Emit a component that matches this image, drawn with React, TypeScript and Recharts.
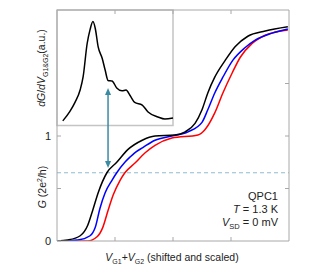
import { LineChart, Line, XAxis, YAxis, ReferenceLine, ReferenceArea } from "recharts";

// conductance traces, x in shifted/scaled gate units, G in 2e^2/h
const blackX = [0, 0.19, 0.4, 0.53, 0.62, 0.71, 0.86, 1.03, 1.22, 1.47, 1.69, 2.03, 2.21, 2.38, 2.5, 2.6, 2.72, 2.9, 3.07, 3.29, 3.59, 3.98];
const blackG = [0, 0.01, 0.05, 0.15, 0.3, 0.46, 0.65, 0.75, 0.87, 0.96, 1.0, 1.01, 1.04, 1.12, 1.25, 1.41, 1.56, 1.72, 1.85, 1.95, 2.0, 2.04];

const blueX = [0, 0.36, 0.57, 0.66, 0.74, 0.83, 0.95, 1.03, 1.17, 1.26, 1.34, 1.48, 1.69, 1.98, 2.26, 2.5, 2.6, 2.72, 2.86, 3.03, 3.24, 3.41, 3.71, 3.98];
const blueG = [0, 0.01, 0.05, 0.13, 0.31, 0.46, 0.58, 0.65, 0.75, 0.8, 0.84, 0.89, 0.96, 1.0, 1.04, 1.13, 1.25, 1.41, 1.56, 1.72, 1.84, 1.91, 1.98, 2.02];

const redX = [0, 0.53, 0.69, 0.79, 0.88, 0.97, 1.09, 1.17, 1.34, 1.52, 1.69, 1.98, 2.43, 2.55, 2.72, 2.86, 3.02, 3.16, 3.36, 3.59, 3.98];
const redG = [0, 0, 0.04, 0.13, 0.29, 0.44, 0.58, 0.65, 0.74, 0.84, 0.91, 0.98, 1.01, 1.06, 1.22, 1.41, 1.6, 1.75, 1.88, 1.96, 2.01];

// inset dG/dV (a.u.), 0 = inset floor, 1 = inset top
const insetX = [0.1, 0.22, 0.31, 0.4, 0.45, 0.52, 0.57, 0.62, 0.66, 0.71, 0.78, 0.83, 0.88, 0.95, 1.03, 1.12, 1.19, 1.26, 1.34, 1.47, 1.57, 1.74, 1.86, 2.0];
const insetD = [0.04, 0.12, 0.2, 0.31, 0.42, 0.71, 0.83, 0.9, 0.84, 0.68, 0.58, 0.48, 0.39, 0.385, 0.325, 0.3, 0.307, 0.26, 0.2, 0.177, 0.117, 0.074, 0.056, 0.065];

const X_TICKS = [1, 2, 3];
const LEFT_TICKS = [0, 0.5, 1];
const RIGHT_TICKS = [0.5, 1, 1.5];
const ARROW_X = 0.88;
const ARROW_G = [0.695, 1.457];
const DASH_G = 0.65;

const zip = (xs: number[], ys: number[]) => xs.map((x, i) => ({ x, y: ys[i] }));

const FONT = '"Liberation Sans", Arial, sans-serif';
const AXIS = "#a8a8a8";
const TEAL = "#3a8ba2";

// ticks point into the plot; x/y arrive at the axis line because tickSize/tickMargin are 0
function tickIn(dir: "up" | "down" | "left" | "right", labels = false) {
  return (p: any) => {
    const { x, y, payload } = p;
    const d = 4;
    const dx = dir === "left" ? -d : dir === "right" ? d : 0;
    const dy = dir === "up" ? -d : dir === "down" ? d : 0;
    const v = payload?.value;
    return (
      <g>
        <line x1={x} y1={y} x2={x + dx} y2={y + dy} stroke={AXIS} strokeWidth={1} />
        {labels && v !== 0.5 && (
          <text x={x - 6} y={y + 4} textAnchor="end" fontSize={11} fontFamily={FONT} fill="#222">
            {v}
          </text>
        )}
      </g>
    );
  };
}

function Arrow(p: any) {
  const { x1, y1, x2, y2 } = p;
  const top = Math.min(y1, y2);
  const bot = Math.max(y1, y2);
  const h = 7;
  const w = 3;
  return (
    <g>
      <line x1={x1} x2={x2} y1={top + h - 1} y2={bot - h + 1} stroke={TEAL} strokeWidth={1.5} />
      <polygon points={`${x1},${top} ${x1 - w},${top + h} ${x1 + w},${top + h}`} fill={TEAL} />
      <polygon points={`${x1},${bot} ${x1 - w},${bot - h} ${x1 + w},${bot - h}`} fill={TEAL} />
    </g>
  );
}

const axisCommon = {
  type: "number" as const,
  allowDataOverflow: true,
  stroke: AXIS,
  axisLine: { stroke: AXIS, strokeWidth: 1 },
  tickLine: false,
  tickSize: 0,
  tickMargin: 0,
};

export default function App() {
  return (
    <div style={{ position: "absolute", left: 0, top: 0, width: 315, height: 276, background: "#fff" }}>
      <LineChart width={315} height={276} margin={{ top: 5, right: 21, bottom: 15, left: 37 }}>
        <XAxis xAxisId="b" dataKey="x" domain={[0, 4]} ticks={X_TICKS} height={20} {...axisCommon} tick={tickIn("up")} />
        <XAxis xAxisId="t" orientation="top" dataKey="x" domain={[0, 4]} ticks={X_TICKS} height={5} {...axisCommon} tick={tickIn("down")} />
        <YAxis yAxisId="g" domain={[0, 2.2]} ticks={LEFT_TICKS} width={20} {...axisCommon} tick={tickIn("right", true)} />
        <YAxis yAxisId="r" orientation="right" domain={[0, 2.2]} ticks={RIGHT_TICKS} width={5} {...axisCommon} tick={tickIn("left")} />
        <YAxis yAxisId="dg" orientation="right" type="number" domain={[-1, 1]} allowDataOverflow width={0} hide />

        <ReferenceArea xAxisId="b" yAxisId="dg" x1={0} x2={2} y1={0} y2={1} fill="none" stroke="#c4c4c4" strokeWidth={1.5} />
        <ReferenceLine xAxisId="b" yAxisId="g" y={DASH_G} stroke="#8dbdd0" strokeWidth={1.2} strokeDasharray="4 3" />

        <Line xAxisId="b" yAxisId="dg" data={zip(insetX, insetD)} dataKey="y" type="monotone" stroke="#000" strokeWidth={1.5} dot={false} isAnimationActive={false} />
        <Line xAxisId="b" yAxisId="g" data={zip(redX, redG)} dataKey="y" type="monotone" stroke="#ff0000" strokeWidth={1.5} dot={false} isAnimationActive={false} />
        <Line xAxisId="b" yAxisId="g" data={zip(blueX, blueG)} dataKey="y" type="monotone" stroke="#0000ff" strokeWidth={1.5} dot={false} isAnimationActive={false} />
        <Line xAxisId="b" yAxisId="g" data={zip(blackX, blackG)} dataKey="y" type="monotone" stroke="#000" strokeWidth={1.5} dot={false} isAnimationActive={false} />

        <ReferenceLine xAxisId="b" yAxisId="g" segment={[{ x: ARROW_X, y: ARROW_G[0] }, { x: ARROW_X, y: ARROW_G[1] }]} shape={<Arrow />} />
      </LineChart>

      <svg width={315} height={276} style={{ position: "absolute", left: 0, top: 0, pointerEvents: "none" }} fontFamily={FONT} fill="#222">
        <text transform="translate(46,187) rotate(-90)" textAnchor="middle" fontSize={10.5}>
          <tspan fontStyle="italic">G</tspan> (2e<tspan dy={-4} fontSize={7}>2</tspan><tspan dy={4}>/h)</tspan>
        </text>
        <text transform="translate(45,68) rotate(-90)" textAnchor="middle" fontSize={10.5}>
          <tspan fontStyle="italic">dG</tspan>/<tspan fontStyle="italic">dV</tspan><tspan dy={2.5} fontSize={7}>G1&amp;G2</tspan><tspan dy={-2.5}>(a.u.)</tspan>
        </text>
        <text x={172} y={261} textAnchor="middle" fontSize={10.5}>
          <tspan fontStyle="italic">V</tspan><tspan dy={2.5} fontSize={7}>G1</tspan><tspan dy={-2.5}>+</tspan><tspan fontStyle="italic">V</tspan><tspan dy={2.5} fontSize={7}>G2</tspan><tspan dy={-2.5}> (shifted and scaled)</tspan>
        </text>
        <text x={278} y={200} textAnchor="end" fontSize={11}>QPC1</text>
        <text x={278} y={213} textAnchor="end" fontSize={11}>
          <tspan fontStyle="italic">T</tspan> = 1.3 K
        </text>
        <text x={278} y={226} textAnchor="end" fontSize={11}>
          <tspan fontStyle="italic">V</tspan><tspan dy={2.5} fontSize={7.5}>SD</tspan><tspan dy={-2.5}> = 0 mV</tspan>
        </text>
      </svg>
    </div>
  );
}
